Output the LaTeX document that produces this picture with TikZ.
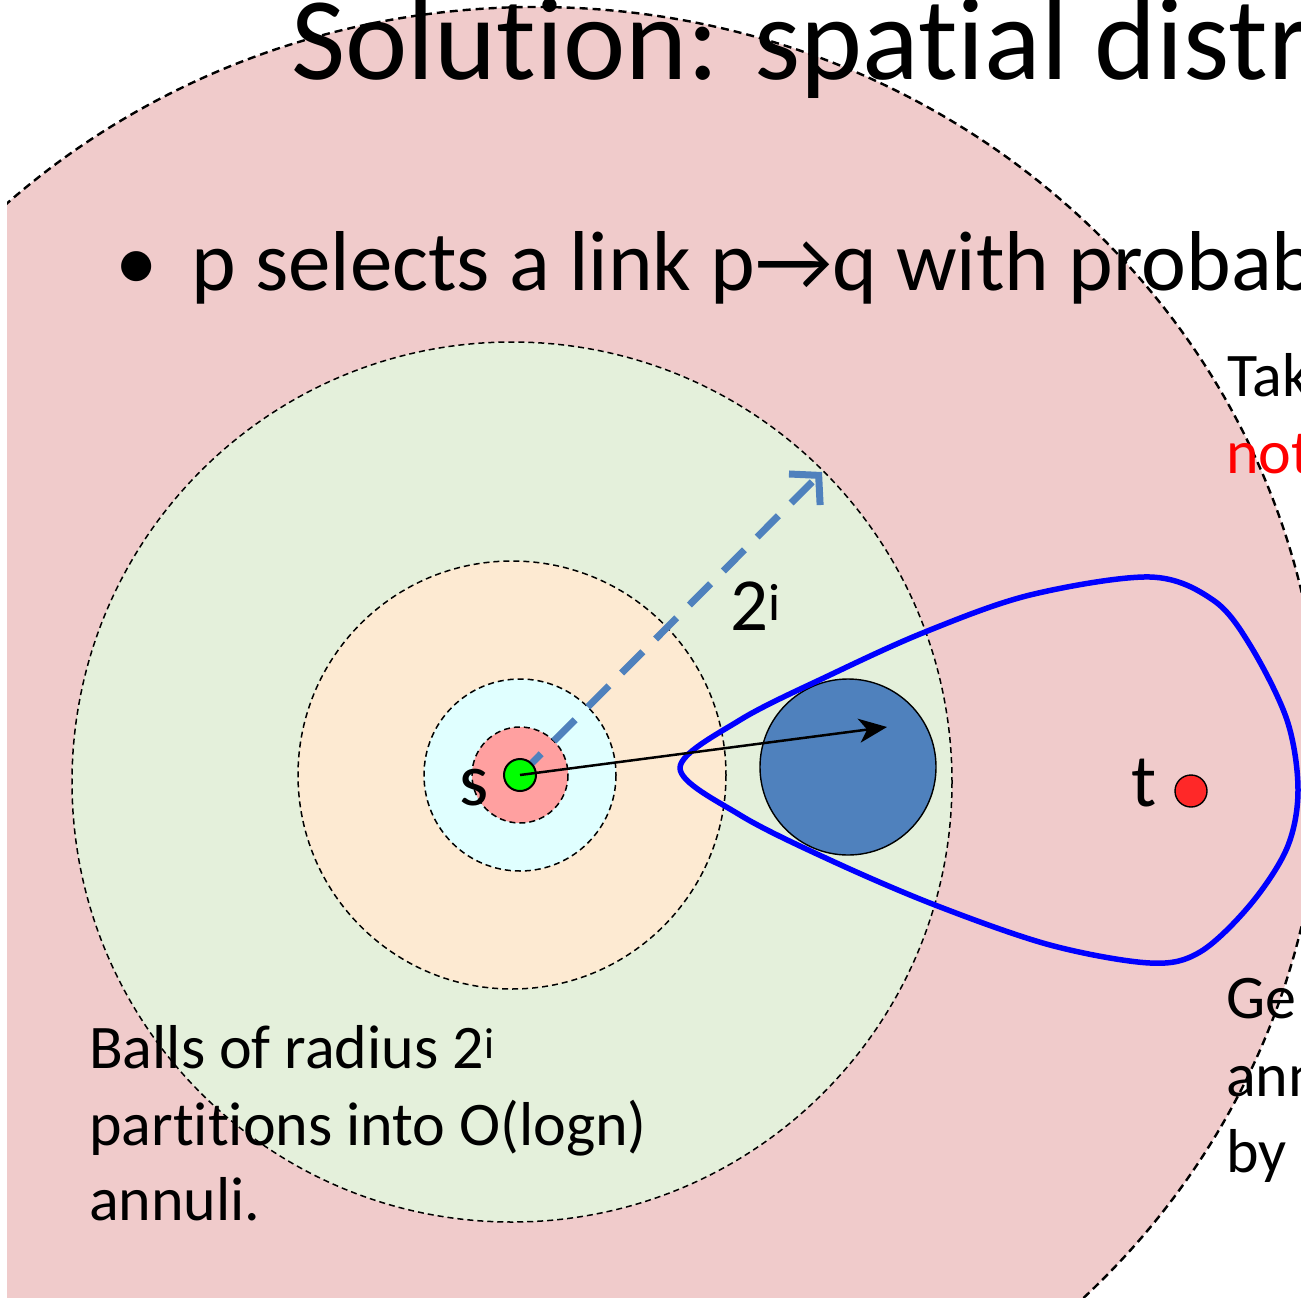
\documentclass[tikz,border=0pt]{standalone}
\usepackage{fontspec}
\setmainfont{Carlito}[Ligatures={NoCommon,NoRare,NoContextual}]
\usetikzlibrary{arrows.meta}
\definecolor{pinkbg}{RGB}{240,203,203}
\definecolor{greenbg}{RGB}{228,240,219}
\definecolor{orangebg}{RGB}{253,234,210}
\definecolor{cyanbg}{RGB}{224,255,255}
\definecolor{pinkcore}{RGB}{255,160,160}
\definecolor{steel}{RGB}{79,129,189}
\definecolor{dotred}{RGB}{255,40,40}
\begin{document}
\begin{tikzpicture}[x=1pt,y=-1pt,
  ring/.style={draw=black, line width=1.5pt, dash pattern=on 6pt off 4pt},
  bigring/.style={draw=black, line width=2.4pt, dash pattern=on 8pt off 5pt},
  annot/.style={font=\fontsize{62}{74}\selectfont, anchor=base west, inner sep=0pt},
  lbl/.style={font=\fontsize{75}{90}\selectfont, anchor=base west, inner sep=0pt},
  dotnode/.style={circle, draw=black, inner sep=0pt}]
\useasboundingbox (0,0) rectangle (1301,1298);
\fill[white] (0,0) rectangle (1301,1298);
% big outer region
\begin{scope}
  \clip (7,0) rectangle (1301,1297);
  \draw[bigring, fill=pinkbg] (536,759) ellipse [x radius=785, y radius=752];
\end{scope}
% balls
\draw[ring, fill=greenbg] (512,782) circle [radius=440];
\draw[ring, fill=orangebg] (512,775) circle [radius=214];
\draw[ring, fill=cyanbg] (520,775) circle [radius=96];
\draw[ring, fill=pinkcore] (520,775) circle [radius=48];
% texts
\node[font=\fontsize{118}{140}\selectfont, anchor=base west, inner sep=0pt] (title) at (291,80) {Solution: spatial distr};
\node[font=\fontsize{85}{100}\selectfont, anchor=base, inner sep=0pt] (bullet) at (137,290) {•};
\node[font=\fontsize{85}{100}\selectfont, anchor=base west, inner sep=0pt] (line1) at (191,290) {p selects a link p→q with probab};
\node[annot] (tak) at (1227,396) {Tak};
\node[annot, text=red] (not) at (1226,473) {not};
\node[annot] (ge) at (1226,1018) {Ge};
\node[annot] (ann) at (1226,1096) {ann};
\node[annot] (by) at (1226,1172) {by};
\node[annot] (balls) at (89,1068) {Balls of radius 2\textsuperscript{i}};
\node[annot] (part) at (89,1145) {partitions into O(logn)};
\node[annot] (annuli) at (89,1220) {annuli.};
% target region
\node[dotnode, fill=steel, line width=1.4pt, minimum size=176pt] (q) at (848,767) {};
\draw[blue, line width=5.5pt, line join=round]
  plot[smooth cycle, tension=0.55] coordinates {
  (680,768) (740,720) (830,675) (925,632) (1030,595) (1150,577)
  (1213,600) (1250,645) (1287,720) (1298,790) (1287,848) (1250,905)
  (1200,952) (1150,963) (1050,945) (935,905) (830,860) (740,815)};
\node[dotnode, fill=dotred, line width=1.4pt, minimum size=32pt] (t) at (1191,791) {};
\node[lbl] (tlabel) at (1131,806) {t};
% radius arrow
\coordinate (rim) at (822,472);
\coordinate (qin) at (887,727);
\draw[steel, line width=7pt, dash pattern=on 30pt off 18pt,
  -{Straight Barb[length=20pt,width=44pt,line width=7pt]}] (520,775) -- (rim);
\node[lbl] (two) at (730,630) {2\textsuperscript{i}};
% source node
\node[dotnode, fill=green, line width=2pt, minimum size=32pt] (s) at (520,775) {};
\node[lbl] (slabel) at (459,805) {s};
\draw[black, line width=2.5pt, -{Stealth[length=28pt,width=24pt,inset=8pt]}] (s.center) -- (qin);
\end{tikzpicture}
\end{document}
